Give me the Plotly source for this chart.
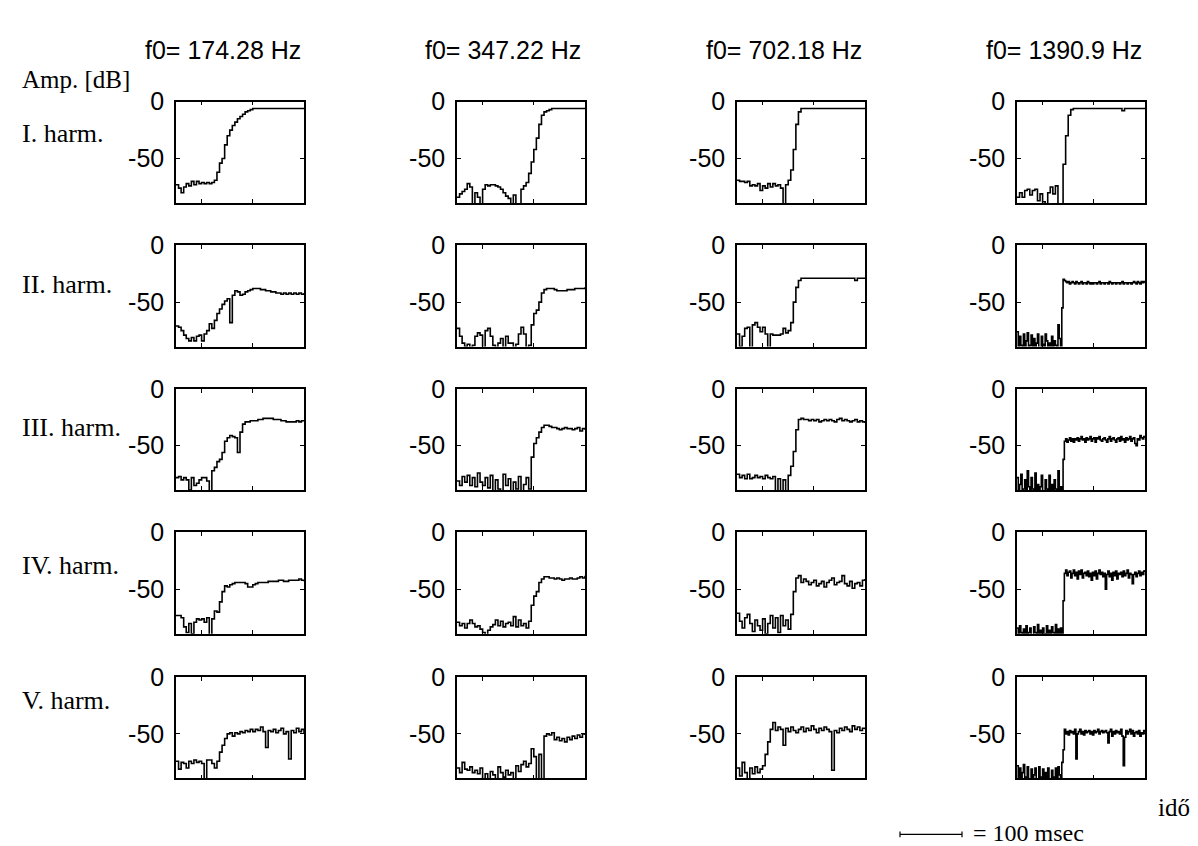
import plotly.graph_objects as go

W, H = 1198, 846

# ---------------- data ----------------
col_titles = ["f0= 174.28 Hz", "f0= 347.22 Hz", "f0= 702.18 Hz", "f0= 1390.9 Hz"]
row_labels = ["I. harm.", "II. harm.", "III. harm.", "IV. harm.", "V. harm."]
y_tickvals = [0, -50]
y_ticktext = ["0", "-50"]
x_tickvals = [0.2, 0.6, 1.0]
y_range = [-89, 0]

# amplitude in dB, sampled uniformly over the shown time window
h1_174 = [-73, -76, -80, -75, -72, -74, -70, -73, -70, -72, -71, -72, -71, -72, -71, -69, -62, -54, -50, -38,
          -30, -25, -21, -18, -15, -13, -11, -9, -8, -7, -6, -6, -6, -6, -6, -6, -6, -6, -6, -6,
          -6, -6, -6, -6, -6, -6, -6, -6, -6, -6, -6]
h1_347 = [-84, -81, -79, -77, -72, -75, -90, -80, -84, -90, -77, -73, -74, -73, -73, -74, -75, -77, -80, -83,
          -85, -90, -82, -90, -90, -77, -74, -71, -63, -53, -42, -32, -20, -12, -9, -8, -7, -6, -6, -6,
          -6, -6, -6, -6, -6, -6, -6, -6, -6, -6, -6]
h1_702 = [-69, -70, -70, -71, -70, -74, -73, -74, -72, -78, -74, -76, -72, -75, -72, -74, -73, -76, -90, -73,
          -69, -60, -42, -20, -9, -6, -6, -6, -6, -6, -6, -6, -6, -6, -6, -6, -6, -6, -6, -6,
          -6, -6, -6, -6, -6, -6, -6, -6, -6, -6, -6]
h1_1390 = [-84, -80, -84, -78, -77, -82, -78, -77, -87, -81, -88, -90, -80, -75, -81, -74, -90, -90, -55, -30,
           -12, -7, -6, -6, -6, -6, -6, -6, -6, -6, -6, -6, -6, -6, -6, -6, -6, -6, -6, -6,
           -6, -8, -6, -6, -6, -6, -6, -6, -6, -6, -6]

h2_174 = [-71, -72, -75, -79, -82, -84, -81, -84, -80, -79, -84, -78, -75, -69, -73, -66, -60, -56, -52, -49,
          -47, -68, -44, -40, -41, -44, -43, -41, -40, -39, -38, -38, -38, -39, -39, -40, -40, -41, -41, -42,
          -42, -43, -42, -43, -42, -43, -42, -43, -42, -43, -42]
h2_347 = [-73, -80, -86, -89, -87, -90, -88, -80, -77, -79, -90, -75, -73, -80, -88, -90, -86, -82, -90, -80,
          -86, -86, -90, -87, -78, -72, -78, -90, -88, -70, -60, -57, -50, -42, -39, -38, -38, -38, -39, -40,
          -40, -40, -40, -39, -39, -39, -38, -38, -38, -38, -37]
h2_702 = [-78, -89, -80, -73, -72, -90, -70, -68, -72, -76, -72, -78, -90, -78, -79, -79, -79, -78, -73, -77,
          -75, -68, -50, -37, -31, -29, -29, -29, -29, -29, -29, -29, -29, -29, -29, -29, -29, -29, -29, -29,
          -29, -29, -29, -29, -29, -29, -31, -29, -29, -29, -29]
h2_1390 = [-76, -90, -80, -88, -90, -78, -90, -84, -77, -90, -88, -79, -90, -82, -90, -86, -78, -90, -90, -80,
           -87, -90, -78, -84, -90, -86, -90, -80, -90, -84, -88, -90, -70, -82, -90, -55, -30, -31,
           -32, -33, -32, -34, -33, -32, -33, -34, -32, -33,
           -34, -33, -32, -34, -33, -33, -34, -32, -33, -34,
           -33, -34, -33, -33, -34, -33, -32, -34, -33, -33,
           -34, -33, -33, -34, -32, -33, -34, -33, -33, -34,
           -33, -33, -34, -33, -32, -34, -33, -33, -34, -33,
           -33, -34, -33, -32, -33, -34, -32, -33, -34, -32,
           -33, -32, -33]

h3_174 = [-78, -77, -80, -78, -80, -89, -78, -85, -83, -80, -78, -78, -81, -90, -72, -69, -64, -62, -56, -46,
          -43, -41, -42, -43, -56, -38, -31, -29, -29, -28, -28, -28, -27, -27, -26, -26, -26, -26, -27, -27,
          -27, -28, -28, -29, -29, -29, -29, -28, -29, -28, -28]
h3_347 = [-81, -85, -77, -82, -76, -85, -78, -86, -74, -82, -85, -78, -87, -76, -90, -80, -88, -90, -75, -85,
          -79, -90, -82, -88, -77, -90, -84, -78, -88, -60, -48, -43, -38, -34, -32, -32, -33, -34, -34, -35,
          -36, -35, -34, -35, -35, -36, -35, -34, -37, -35, -36]
h3_702 = [-75, -78, -76, -79, -75, -79, -78, -76, -78, -77, -79, -76, -78, -79, -77, -90, -79, -90, -80, -90,
          -76, -68, -55, -36, -27, -26, -27, -27, -28, -27, -28, -27, -29, -28, -27, -28, -27, -28, -29, -27,
          -26, -28, -27, -28, -29, -28, -27, -29, -28, -29, -30]
h3_1390 = [-78, -90, -84, -75, -90, -88, -80, -90, -72, -86,
           -90, -78, -88, -90, -74, -90, -84, -90, -86, -76,
           -90, -90, -80, -88, -90, -76, -90, -84, -90, -80,
           -88, -90, -72, -90, -86, -90, -62, -46,
           -44, -47, -45, -43, -46, -44, -47, -44, -45, -43,
           -46, -44, -42, -45, -44, -47, -43, -45, -44, -42,
           -46, -44, -43, -47, -43, -44, -42, -45, -46, -44,
           -43, -45, -47, -44, -42, -46, -44, -43, -45, -47,
           -44, -43, -46, -42, -45, -44, -47, -43, -45, -44,
           -42, -46, -44, -43, -48, -50, -44, -45, -41, -43,
           -44, -42, -43]

h4_174 = [-73, -73, -75, -83, -88, -80, -89, -79, -76, -77, -76, -79, -75, -90, -76, -69, -70, -61, -52, -47,
          -48, -46, -45, -44, -44, -44, -44, -45, -48, -48, -46, -45, -44, -44, -44, -44, -43, -43, -43, -43,
          -42, -42, -43, -43, -42, -42, -42, -42, -41, -42, -43]
h4_347 = [-79, -82, -80, -84, -80, -77, -80, -83, -82, -85, -88, -90, -86, -83, -81, -77, -82, -78, -83, -80,
          -79, -82, -74, -83, -77, -82, -80, -84, -78, -64, -56, -52, -44, -41, -39, -39, -40, -40, -41, -40,
          -41, -42, -41, -41, -40, -41, -41, -40, -39, -40, -38]
h4_702 = [-71, -78, -84, -75, -72, -80, -87, -77, -82, -86, -76, -89, -80, -73, -84, -75, -88, -73, -82, -77,
          -85, -72, -52, -40, -38, -44, -41, -43, -46, -44, -42, -47, -45, -43, -48, -44, -42, -40, -46, -44,
          -43, -38, -45, -47, -43, -49, -45, -44, -47, -42, -41]
h4_1390 = [-84, -90, -82, -88, -90, -85, -90, -82, -90, -88,
           -84, -90, -90, -83, -88, -90, -81, -90, -86, -90,
           -84, -89, -90, -82, -90, -86, -90, -83, -88, -90,
           -81, -90, -85, -90, -84, -90, -60, -36,
           -33, -38, -35, -34, -40, -36, -33, -38, -35, -41,
           -34, -37, -33, -40, -36, -35, -38, -34, -39, -36,
           -42, -35, -38, -34, -41, -36, -33, -37, -35, -39,
           -36, -50, -37, -34, -39, -36, -42, -35, -38, -34,
           -41, -36, -37, -35, -39, -34, -38, -36, -33, -40,
           -36, -37, -45, -37, -35, -39, -36, -34, -38, -35,
           -37, -34, -33]

h5_174 = [-74, -81, -75, -76, -80, -74, -76, -73, -75, -74, -76, -90, -73, -73, -76, -80, -74, -66, -60, -54,
          -50, -49, -52, -49, -50, -48, -49, -47, -48, -46, -48, -46, -47, -44, -48, -62, -47, -48, -46, -49,
          -47, -45, -50, -48, -72, -47, -49, -45, -48, -46, -50]
h5_347 = [-80, -84, -75, -81, -82, -79, -84, -82, -85, -80, -90, -85, -90, -83, -86, -90, -79, -84, -88, -82,
          -86, -84, -90, -78, -83, -77, -74, -79, -76, -63, -70, -90, -68, -90, -52, -50, -51, -49, -55, -53,
          -56, -54, -57, -53, -55, -52, -54, -51, -53, -50, -51]
h5_702 = [-80, -87, -75, -84, -90, -80, -85, -79, -84, -81, -78, -68, -57, -46, -40, -47, -44, -46, -60, -45,
          -48, -44, -47, -49, -46, -44, -48, -45, -47, -43, -46, -49, -45, -47, -44, -46, -48, -82, -47, -49,
          -45, -47, -44, -46, -48, -43, -46, -44, -47, -45, -46]
h5_1390 = [-78, -90, -80, -90, -84, -77, -90, -88, -79, -90,
           -90, -81, -90, -86, -80, -90, -90, -79, -88, -90,
           -81, -90, -84, -90, -80, -90, -90, -82, -88, -90,
           -80, -90, -79, -86, -90, -75, -64, -46,
           -50, -48, -51, -47, -49, -48, -50, -46, -72, -50,
           -48, -46, -50, -48, -51, -47, -49, -48, -47, -50,
           -48, -51, -47, -49, -48, -46, -50, -48, -47, -49,
           -48, -47, -49, -58, -48, -46, -52, -48, -50, -47,
           -49, -48, -50, -46, -52, -78, -53, -47, -50, -48,
           -46, -50, -47, -52, -49, -48, -50, -47, -52, -49,
           -50, -47, -49]

grid = [
    [h1_174, h1_347, h1_702, h1_1390],
    [h2_174, h2_347, h2_702, h2_1390],
    [h3_174, h3_347, h3_702, h3_1390],
    [h4_174, h4_347, h4_702, h4_1390],
    [h5_174, h5_347, h5_702, h5_1390],
]

# ---------------- layout geometry (pixels) ----------------
col_left = [168, 449, 729, 1009]
panel_w = 128
row_top = [81, 227, 373, 519, 666]
panel_h = 103

def px(x):
    return x / W

def py(y):
    return 1 - y / H

SANS = "Liberation Sans, Arial, sans-serif"
SERIF = "Liberation Serif, Times New Roman, serif"

fig = go.Figure()
layout = dict(
    width=W, height=H,
    margin=dict(l=0, r=0, t=0, b=0),
    paper_bgcolor="white", plot_bgcolor="white",
    showlegend=False,
)

n = 0
for r in range(5):
    for c in range(4):
        n += 1
        ys = grid[r][c]
        m = len(ys)
        xs = [i / (m - 1) for i in range(m)]
        sfx = "" if n == 1 else str(n)
        fig.add_trace(go.Scatter(
            x=xs, y=ys, mode="lines",
            line=dict(color="black", width=1.6, shape="hv"),
            xaxis="x" + sfx, yaxis="y" + sfx,
            hoverinfo="skip",
        ))
        layout["xaxis" + sfx] = dict(
            domain=[px(col_left[c]), px(col_left[c] + panel_w)],
            anchor="y" + sfx, range=[0, 1],
            tickvals=x_tickvals, showticklabels=False,
            ticks="inside", ticklen=4, tickwidth=1, tickcolor="black",
            showline=True, linecolor="black", linewidth=1.5, mirror="allticks",
            showgrid=False, zeroline=False, fixedrange=True,
        )
        layout["yaxis" + sfx] = dict(
            domain=[py(row_top[r] + panel_h), py(row_top[r])],
            anchor="x" + sfx, range=y_range,
            tickvals=y_tickvals, ticktext=y_ticktext,
            ticks="inside", ticklen=4, tickwidth=1, tickcolor="black",
            showline=True, linecolor="black", linewidth=1.5, mirror="allticks",
            showgrid=False, zeroline=False, fixedrange=True,
            tickfont=dict(family=SANS, size=25, color="black"),
            ticklabelstandoff=5,
        )

annotations = []
title_left = [135, 415, 696, 976]
for c, t in enumerate(col_titles):
    annotations.append(dict(
        text=t, x=px(title_left[c]), y=py(28), xref="paper", yref="paper",
        xanchor="left", yanchor="middle", showarrow=False,
        font=dict(family=SANS, size=25, color="black"),
    ))

row_label_y = [113, 267, 412, 553, 690]
for r, t in enumerate(row_labels):
    annotations.append(dict(
        text=t, x=px(12), y=py(row_label_y[r]), xref="paper", yref="paper",
        xanchor="left", yanchor="middle", showarrow=False,
        font=dict(family=SERIF, size=26, color="black"),
    ))

annotations.append(dict(
    text="Amp. [dB]", x=px(12), y=py(58), xref="paper", yref="paper",
    xanchor="left", yanchor="middle", showarrow=False,
    font=dict(family=SERIF, size=25, color="black"),
))
annotations.append(dict(
    text="idő", x=px(1148), y=py(799), xref="paper", yref="paper",
    xanchor="left", yanchor="middle", showarrow=False,
    font=dict(family=SERIF, size=25, color="black"),
))
annotations.append(dict(
    text="= 100 msec", x=px(963), y=py(825), xref="paper", yref="paper",
    xanchor="left", yanchor="middle", showarrow=False,
    font=dict(family=SERIF, size=24, color="black"),
))
layout["annotations"] = annotations

# scale bar (100 msec)
bar_y = 826
shapes = [
    dict(type="line", xref="paper", yref="paper", x0=px(892), x1=px(954), y0=py(bar_y), y1=py(bar_y),
         line=dict(color="black", width=1.2)),
    dict(type="line", xref="paper", yref="paper", x0=px(892), x1=px(892), y0=py(bar_y - 3), y1=py(bar_y + 3),
         line=dict(color="black", width=1.2)),
    dict(type="line", xref="paper", yref="paper", x0=px(954), x1=px(954), y0=py(bar_y - 3), y1=py(bar_y + 3),
         line=dict(color="black", width=1.2)),
]
layout["shapes"] = shapes

fig.update_layout(**layout)
fig.write_html("out.html")
